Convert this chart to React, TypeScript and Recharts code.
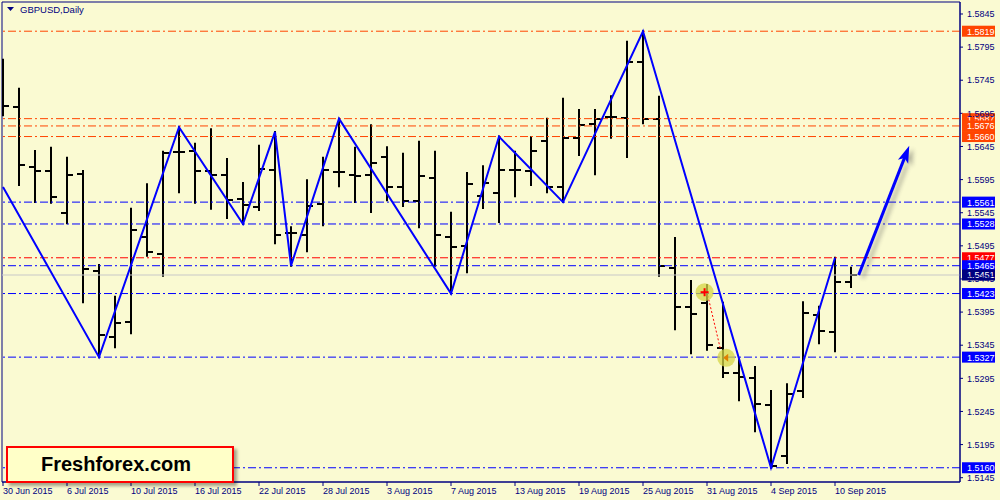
import { ComposedChart, Bar, Line, XAxis, YAxis, ReferenceLine, ReferenceDot, ReferenceArea } from 'recharts';

const dates = [
  '30 Jun 2015', '1 Jul 2015', '2 Jul 2015', '3 Jul 2015', '6 Jul 2015', '7 Jul 2015', '8 Jul 2015', '9 Jul 2015',
  '10 Jul 2015', '13 Jul 2015', '14 Jul 2015', '15 Jul 2015', '16 Jul 2015', '17 Jul 2015', '20 Jul 2015', '21 Jul 2015',
  '22 Jul 2015', '23 Jul 2015', '24 Jul 2015', '27 Jul 2015', '28 Jul 2015', '29 Jul 2015', '30 Jul 2015', '31 Jul 2015',
  '3 Aug 2015', '4 Aug 2015', '5 Aug 2015', '6 Aug 2015', '7 Aug 2015', '10 Aug 2015', '11 Aug 2015', '12 Aug 2015',
  '13 Aug 2015', '14 Aug 2015', '17 Aug 2015', '18 Aug 2015', '19 Aug 2015', '20 Aug 2015', '21 Aug 2015', '24 Aug 2015',
  '25 Aug 2015', '26 Aug 2015', '27 Aug 2015', '28 Aug 2015', '31 Aug 2015', '1 Sep 2015', '2 Sep 2015', '3 Sep 2015',
  '4 Sep 2015', '7 Sep 2015', '8 Sep 2015', '9 Sep 2015', '10 Sep 2015', '11 Sep 2015',
];

const opens = [
  1.5753, 1.5705, 1.5614, 1.5608, 1.5545, 1.5603, 1.5457, 1.5357, 1.5380, 1.5508, 1.5483, 1.5637, 1.5638, 1.5608,
  1.5602, 1.5566, 1.5554, 1.5610, 1.5514, 1.5511, 1.5558, 1.5606, 1.5602, 1.5602, 1.5629, 1.5584, 1.5563, 1.5597,
  1.5508, 1.5495, 1.5570, 1.5575, 1.5610, 1.5608, 1.5653, 1.5584, 1.5658, 1.5679, 1.5690, 1.5688, 1.5772, 1.5686,
  1.5462, 1.5403, 1.5409, 1.5341, 1.5303, 1.5296, 1.5255, 1.5178, 1.5276, 1.5391, 1.5365, 1.5440,
];
const highs = [
  1.5776, 1.5732, 1.5638, 1.5643, 1.5628, 1.5608, 1.5466, 1.5418, 1.5551, 1.5588, 1.5637, 1.5674, 1.5649, 1.5671,
  1.5626, 1.5590, 1.5646, 1.5667, 1.5523, 1.5594, 1.5628, 1.5687, 1.5643, 1.5677, 1.5644, 1.5634, 1.5652, 1.5637,
  1.5545, 1.5605, 1.5615, 1.5660, 1.5637, 1.5659, 1.5687, 1.5717, 1.5700, 1.5700, 1.5721, 1.5803, 1.5819, 1.5720,
  1.5507, 1.5442, 1.5436, 1.5409, 1.5324, 1.5312, 1.5276, 1.5286, 1.5410, 1.5403, 1.5477, 1.5462,
];
const lows = [
  1.5692, 1.5587, 1.5561, 1.5560, 1.5529, 1.5410, 1.5327, 1.5342, 1.5363, 1.5480, 1.5450, 1.5576, 1.5560, 1.5551,
  1.5537, 1.5528, 1.5549, 1.5499, 1.5465, 1.5487, 1.5526, 1.5585, 1.5561, 1.5546, 1.5564, 1.5555, 1.5523, 1.5465,
  1.5423, 1.5455, 1.5552, 1.5531, 1.5570, 1.5587, 1.5576, 1.5561, 1.5632, 1.5603, 1.5658, 1.5629, 1.5680, 1.5450,
  1.5369, 1.5333, 1.5338, 1.5297, 1.5262, 1.5215, 1.5160, 1.5167, 1.5267, 1.5348, 1.5336, 1.5433,
];
const closes = [
  1.5706, 1.5617, 1.5608, 1.5569, 1.5602, 1.5460, 1.5360, 1.5378, 1.5519, 1.5486, 1.5635, 1.5637, 1.5608, 1.5602,
  1.5564, 1.5557, 1.5611, 1.5511, 1.5514, 1.5555, 1.5610, 1.5606, 1.5600, 1.5620, 1.5584, 1.5563, 1.5600, 1.5511,
  1.5493, 1.5588, 1.5590, 1.5610, 1.5610, 1.5638, 1.5584, 1.5658, 1.5677, 1.5686, 1.5690, 1.5772, 1.5686, 1.5465,
  1.5403, 1.5392, 1.5345, 1.5303, 1.5297, 1.5256, 1.5162, 1.5271, 1.5394, 1.5366, 1.5440, 1.5451,
];

// zigzag vertices (bar index -> price)
const zigIdx = [0, 6, 11, 15, 17, 18, 21, 28, 31, 35, 40, 48, 52];
const zigVal = [1.5584, 1.5327, 1.5674, 1.5528, 1.5667, 1.5465, 1.5687, 1.5423, 1.5660, 1.5561, 1.5819, 1.5160, 1.5477];

// horizontal levels, in drawing order
const levelValues = [1.5819, 1.5687, 1.5676, 1.5660, 1.5561, 1.5528, 1.5477, 1.5465, 1.5423, 1.5327, 1.5160];
const levelKinds = ['o', 'o', 'o', 'o', 'b', 'b', 'r', 'b', 'b', 'b', 'b'];
const bidPrice = 1.5451;

const priceTicks = [1.5145, 1.5195, 1.5245, 1.5295, 1.5345, 1.5395, 1.5445, 1.5495, 1.5545, 1.5595, 1.5645, 1.5695, 1.5745, 1.5795, 1.5845];
const dateTicks = [0, 4, 8, 12, 16, 20, 24, 28, 32, 36, 40, 44, 48, 52];

const arrowFrom = { x: 53.48, y: 1.5451 };
const arrowTo = { x: 56.64, y: 1.5646 };
const markerA = { x: 43.85, y: 1.5425 };
const markerB = { x: 45.2, y: 1.5326 };

const X_MIN = -0.0625;
const X_MAX = 59.8125;
const Y_MIN = 1.51385;
const Y_MAX = 1.58631;

const BG = '#FAFAD2';
const NAVY = '#000080';
const FONT = '"Liberation Sans", Arial, sans-serif';
const kindColor: Record<string, string> = { o: '#FF4500', b: '#0000FF', r: '#FF0000' };

const data = dates.map((d, i) => {
  const z = zigIdx.indexOf(i);
  return {
    i,
    date: d,
    open: opens[i],
    high: highs[i],
    low: lows[i],
    close: closes[i],
    range: [lows[i], highs[i]],
    zz: z >= 0 ? zigVal[z] : null,
  };
});

const OhlcBar = (props: any) => {
  const { x, y, width, height, payload } = props;
  if (x == null || y == null) return null;
  const cx = Math.round(x + width / 2);
  const top = Math.min(y, y + height);
  const bot = Math.max(y, y + height);
  const span = payload.high - payload.low;
  const py = (v: number) => Math.round(span === 0 ? top : top + ((payload.high - v) / span) * (bot - top));
  return (
    <g stroke="#000" strokeWidth={2}>
      <line x1={cx} x2={cx} y1={top - 1} y2={bot + 1} />
      <line x1={cx - 6} x2={cx} y1={py(payload.open)} y2={py(payload.open)} />
      <line x1={cx} x2={cx + 6} y1={py(payload.close)} y2={py(payload.close)} />
    </g>
  );
};

const badge = (value: number, color: string) => (props: any) => {
  const { cx, cy } = props;
  return (
    <g>
      <rect x={cx + 2} y={cy - 5.5} width={33} height={11} fill={color} />
      <text x={cx + 7} y={cy + 3.5} fontSize={9} fontFamily={FONT} fill="#fff">
        {value.toFixed(4)}
      </text>
    </g>
  );
};

const DateTick = (props: any) => {
  const { x, y, payload } = props;
  return (
    <text x={x} y={y} dy="0.71em" textAnchor="start" fontSize={9} fontFamily={FONT} fill={NAVY}>
      {dates[payload.value]}
    </text>
  );
};

const ArrowShape = (props: any) => {
  const { x1, y1, x2, y2 } = props;
  if (x1 == null) return null;
  const dx = x2 - x1;
  const dy = y2 - y1;
  const len = Math.sqrt(dx * dx + dy * dy);
  const ux = dx / len;
  const uy = dy / len;
  const hl = 17;
  const hw = 5.5;
  const bx = x2 - ux * hl;
  const by = y2 - uy * hl;
  const head = `${x2},${y2} ${bx - uy * hw},${by + ux * hw} ${bx + ux * 4},${by + uy * 4} ${bx + uy * hw},${by - ux * hw}`;
  return (
    <g>
      <defs>
        <filter id="arrowShadow" x="-50%" y="-50%" width="200%" height="200%">
          <feGaussianBlur stdDeviation="2" />
        </filter>
      </defs>
      <g filter="url(#arrowShadow)" opacity={0.45} transform="translate(4,3)">
        <line x1={x1} y1={y1} x2={bx} y2={by} stroke="#555" strokeWidth={3} />
        <polygon points={head} fill="#555" />
      </g>
      <line x1={x1} y1={y1} x2={bx + ux * 4} y2={by + uy * 4} stroke="#0000FF" strokeWidth={3} />
      <polygon points={head} fill="#0000FF" />
    </g>
  );
};

const MarkerOpen = (props: any) => {
  const { cx, cy } = props;
  return (
    <g>
      <circle cx={cx} cy={cy} r={9} fill="rgba(214,214,70,0.75)" />
      <line x1={cx - 4} x2={cx + 4} y1={cy} y2={cy} stroke="#FF0000" strokeWidth={2} />
      <line x1={cx} x2={cx} y1={cy - 4} y2={cy + 4} stroke="#FF0000" strokeWidth={2} />
    </g>
  );
};

const MarkerClose = (props: any) => {
  const { cx, cy } = props;
  return (
    <g>
      <circle cx={cx} cy={cy} r={9} fill="rgba(214,214,70,0.75)" />
      <polygon points={`${cx - 3},${cy} ${cx + 2},${cy - 4} ${cx + 2},${cy + 4}`} fill="#E08000" />
    </g>
  );
};

export default function App() {
  return (
    <div style={{ position: 'absolute', left: 0, top: 0, width: 1000, height: 500, background: BG, overflow: 'hidden' }}>
      <ComposedChart width={1000} height={500} data={data} margin={{ top: 2, right: 0, bottom: 0, left: 2 }}>
        <XAxis
          dataKey="i"
          type="number"
          domain={[X_MIN, X_MAX]}
          allowDataOverflow
          ticks={dateTicks}
          interval={0}
          height={18}
          tickSize={4}
          axisLine={{ stroke: NAVY }}
          tickLine={{ stroke: NAVY }}
          tick={<DateTick />}
        />
        <YAxis
          orientation="right"
          type="number"
          domain={[Y_MIN, Y_MAX]}
          allowDataOverflow
          ticks={priceTicks}
          interval={0}
          width={40}
          tickSize={3}
          tickMargin={4}
          axisLine={{ stroke: NAVY }}
          tickLine={{ stroke: NAVY }}
          tick={{ fontSize: 9, fill: NAVY, fontFamily: FONT }}
          tickFormatter={(v: number) => v.toFixed(4)}
        />
        <ReferenceArea x1={X_MIN} x2={X_MAX} y1={Y_MIN} y2={Y_MAX} fill="none" stroke={NAVY} strokeWidth={1} />
        {levelValues.map((v, k) => (
          <ReferenceLine key={'l' + k} y={v} stroke={kindColor[levelKinds[k]]} strokeWidth={1} strokeDasharray="8 3 2 3" />
        ))}
        <ReferenceLine y={bidPrice} stroke="#C8C8C8" strokeWidth={1} />
        <Bar dataKey="range" barSize={10} shape={<OhlcBar />} isAnimationActive={false} />
        <Line
          dataKey="zz"
          type="linear"
          stroke="#0000FF"
          strokeWidth={2}
          dot={false}
          activeDot={false}
          connectNulls
          isAnimationActive={false}
        />
        <ReferenceLine
          segment={[{ x: 44.05, y: 1.542 }, { x: 44.85, y: 1.5338 }]}
          stroke="#FF0000"
          strokeWidth={1}
          strokeDasharray="2 2"
        />
        <ReferenceDot x={markerA.x} y={markerA.y} shape={<MarkerOpen />} />
        <ReferenceDot x={markerB.x} y={markerB.y} shape={<MarkerClose />} />
        <ReferenceLine segment={[arrowFrom, arrowTo]} shape={<ArrowShape />} />
        {levelValues.map((v, k) => (
          <ReferenceDot key={'b' + k} x={X_MAX} y={v} ifOverflow="visible" shape={badge(v, kindColor[levelKinds[k]])} />
        ))}
        <ReferenceDot x={X_MAX} y={bidPrice} ifOverflow="visible" shape={badge(bidPrice, NAVY)} />
      </ComposedChart>

      <div style={{ position: 'absolute', left: 7, top: 4, display: 'flex', alignItems: 'center', fontFamily: FONT, fontSize: 9.5, color: NAVY }}>
        <svg width={8} height={6} style={{ marginRight: 5 }}>
          <polygon points="0,0 7,0 3.5,4" fill={NAVY} />
        </svg>
        <span>GBPUSD,Daily</span>
      </div>

      <div
        style={{
          position: 'absolute',
          left: 6,
          top: 446,
          width: 216,
          height: 33,
          border: '2px solid #FF0000',
          background: '#FFFFC8',
          boxShadow: '3px 3px 3px rgba(0,0,0,0.35)',
          fontFamily: FONT,
          fontWeight: 'bold',
          fontSize: 20,
          color: '#000',
          display: 'flex',
          alignItems: 'center',
          justifyContent: 'center',
          paddingRight: 8,
          boxSizing: 'content-box',
        }}
      >
        Freshforex.com
      </div>
    </div>
  );
}
